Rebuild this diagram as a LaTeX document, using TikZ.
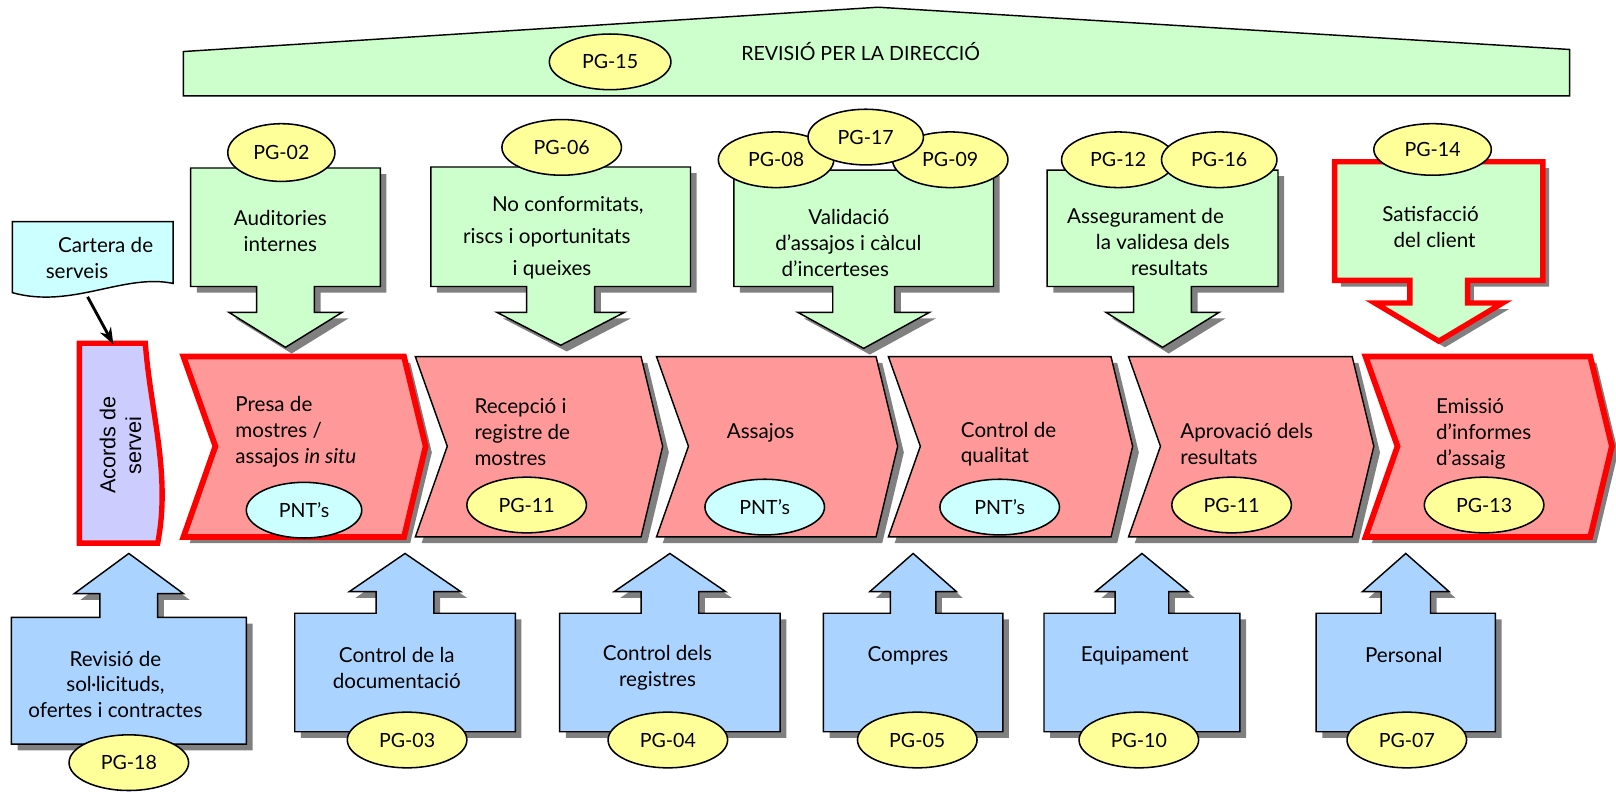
\documentclass[tikz,border=0pt]{standalone}
\usepackage{fontspec}
\setmainfont{Lato}
\newfontfamily\arialfont{Liberation Sans}
\usetikzlibrary{arrows.meta, positioning, shapes.geometric}
\definecolor{boxgreen}{RGB}{204,255,204}
\definecolor{boxpink}{RGB}{255,153,153}
\definecolor{boxblue}{RGB}{170,212,255}
\definecolor{pgyellow}{RGB}{255,255,153}
\definecolor{pntcyan}{RGB}{204,255,255}
\definecolor{acordlilac}{RGB}{204,204,255}
\definecolor{shadowgray}{RGB}{128,128,128}

\begin{document}
\begin{tikzpicture}[x=0.5pt, y=-0.5pt, font=\fontsize{10}{12.5}\selectfont,
    dropshadow/.style={fill=shadowgray},
    greenarrow/.style={draw, line width=0.7pt, fill=boxgreen},
    redarrow/.style={draw=red, line width=2.6pt, fill=boxgreen},
    bluearrow/.style={draw, line width=0.7pt, fill=boxblue},
    chev/.style={draw, line width=0.7pt, fill=boxpink},
    redchev/.style={draw=red, line width=2.8pt, fill=boxpink},
    oval/.style={ellipse, draw, line width=0.75pt, fill=pgyellow, minimum width=58pt, minimum height=27pt, inner sep=0pt, font=\fontsize{9.5}{11}\selectfont},
    pnt/.style={oval, fill=pntcyan},
    txt/.style={align=center, inner sep=0pt},
    ltxt/.style={align=left, inner sep=0pt, anchor=west},
    arr/.style={-{Stealth[length=8pt, width=6pt]}, line width=1.4pt}]
    \useasboundingbox (0,0) rectangle (1568,768);

    % management review
    \draw[line width=0.7pt, fill=boxgreen] (178,93) -- (178,50) -- (852,7) -- (1523,48) -- (1523,93) -- cycle;
    \node[font=\fontsize{9.5}{11}\selectfont] (revisio) at (835,50) {REVISIÓ PER LA DIRECCIÓ};
    \node[oval, minimum width=59pt] (pg15) at (592,60) {PG-15};

    % support processes (top)
    \foreach \cx/\hw/\yt/\yb/\yh/\yp/\sw/\hh/\st in {277/92/163/278/303/337/28/55/greenarrow, 544/126/162/278/303/335/33/62/greenarrow, 838/126/165/278/303/338/30/64/greenarrow, 1128/112/165/278/303/337/28/55/greenarrow, 1396/101/157/272/294/331/28/62/redarrow}
      \foreach \dx/\sty in {6/dropshadow, 0/\st}
        \path[\sty, shift={(\dx,\dx)}] ({\cx-\hw},\yt) -- ({\cx+\hw},\yt) -- ({\cx+\hw},\yb) -- ({\cx+\sw},\yb) -- ({\cx+\sw},\yh) -- ({\cx+\hh},\yh) -- (\cx,\yp) -- ({\cx-\hh},\yh) -- ({\cx-\sw},\yh) -- ({\cx-\sw},\yb) -- ({\cx-\hw},\yb) -- cycle;

    \node[txt] (audit) at (272,224) {Auditories\\internes};
    \node[ltxt] (noconf) at (449,231) {\hspace*{14pt}No conformitats,\\[3pt]riscs i oportunitats\\[3pt]\hspace*{24pt}i queixes};
    \node[ltxt] (valid) at (752,236) {\hspace*{16pt}Validació\\d’assajos i càlcul\\\hspace*{3pt}d’incerteses};
    \node[ltxt] (asseg) at (1035,235) {Assegurament de\\\hspace*{14pt}la validesa dels\\\hspace*{31pt}resultats};
    \node[txt] (satisf) at (1388,220) {Satisfacció\\\hspace*{4pt}del client};

    \node[oval, minimum width=52pt, minimum height=28pt] (pg02) at (273,148) {PG-02};
    \node[oval] (pg06) at (545,143) {PG-06};
    \node[oval, minimum width=56pt] (pg08) at (753,155) {PG-08};
    \node[oval, minimum width=56pt] (pg09) at (922,155) {PG-09};
    \node[oval, minimum width=56pt] (pg17) at (840,133) {PG-17};
    \node[oval, minimum width=55pt] (pg12) at (1085,155) {PG-12};
    \node[oval, minimum width=56pt] (pg16) at (1183,155) {PG-16};
    \node[oval, minimum width=57pt, minimum height=25pt] (pg14) at (1390,145) {PG-14};

    % service portfolio and agreements
    \draw[line width=0.7pt, fill=pntcyan] (12,215) -- (168,215) -- (168,275) .. controls (120,265) and (70,300) .. (12,284) -- cycle;
    \node[ltxt, align=left] (cartera) at (44,250) {\hspace*{6pt}Cartera de\\serveis};
    \draw[draw=red, line width=2.6pt, fill=acordlilac] (77,333) -- (141,333) .. controls (146,400) and (166,460) .. (153,527) -- (77,527) -- cycle;
    \node[txt, rotate=90, font=\arialfont\fontsize{10.5}{12.5}\selectfont] (acords) at (117,432) {Acords de\\servei};
    \coordinate (cartfoot) at (85,288);
    \coordinate (acordtop) at (110,334);
    \draw[arr] (cartfoot) -- (acordtop);

    % main process chain
    \foreach \xl/\xr/\st in {178/392/redchev, 403/622/chev, 637/850/chev, 862/1078/chev, 1095/1312/chev, 1325/1543/redchev}
      \foreach \dx/\sty in {6/dropshadow, 0/\st}
        \path[\sty, shift={(\dx,\dx)}] (\xl,346) -- (\xr,346) -- ({\xr+21},433) -- (\xr,521) -- (\xl,521) -- ({\xl+31},433) -- cycle;

    \node[ltxt] (presa) at (228,419) {Presa de\\mostres /\\assajos \textit{in situ}};
    \node[ltxt] (recep) at (460,419) {Recepció i\\registre de\\mostres};
    \node[txt] (assajos) at (738,420) {Assajos};
    \node[ltxt] (controlq) at (932,431) {Control de\\qualitat};
    \node[ltxt] (aprov) at (1145,431) {Aprovació dels\\resultats};
    \node[ltxt] (emissio) at (1393,421) {Emissió\\d’informes\\d’assaig};

    \node[pnt, minimum width=56pt] (pnt1) at (295,495) {PNT’s};
    \node[oval] (pg11a) at (511,490) {PG-11};
    \node[pnt] (pnt2) at (742,492) {PNT’s};
    \node[pnt] (pnt3) at (970,492) {PNT’s};
    \node[oval] (pg11b) at (1195,490) {PG-11};
    \node[oval] (pg13) at (1440,490) {PG-13};

    % resource processes (bottom)
    \foreach \cx/\hw/\yt/\yb/\yh/\yp/\sw/\hh in {125/114/599/722/576/537/28/53, 393/107/595/710/574/537/28/54, 650/107/595/710/574/537/28/54, 886/87/595/710/574/537/22/42, 1108/95/595/710/574/537/26/45, 1364/87/595/710/574/537/24/42}
      \foreach \dx/\sty in {6/dropshadow, 0/bluearrow}
        \path[\sty, shift={(\dx,\dx)}] ({\cx-\hw},\yb) -- ({\cx-\hw},\yt) -- ({\cx-\sw},\yt) -- ({\cx-\sw},\yh) -- ({\cx-\hh},\yh) -- (\cx,\yp) -- ({\cx+\hh},\yh) -- ({\cx+\sw},\yh) -- ({\cx+\sw},\yt) -- ({\cx+\hw},\yt) -- ({\cx+\hw},\yb) -- cycle;

    \node[txt] (revsol) at (112,664) {Revisió de\\sol·licituds,\\ofertes i contractes};
    \node[txt] (ctrldoc) at (385,648) {Control de la\\documentació};
    \node[txt] (ctrlreg) at (638,648) {Control dels\\registres};
    \node[txt] (compres) at (881,636) {Compres};
    \node[txt] (equip) at (1101,636) {Equipament};
    \node[txt] (personal) at (1362,636) {Personal};

    \node[oval] (pg18) at (125,740) {PG-18};
    \node[oval] (pg03) at (395,718) {PG-03};
    \node[oval] (pg04) at (648,718) {PG-04};
    \node[oval] (pg05) at (890,718) {PG-05};
    \node[oval] (pg10) at (1105,718) {PG-10};
    \node[oval] (pg07) at (1365,718) {PG-07};
\end{tikzpicture}
\end{document}
